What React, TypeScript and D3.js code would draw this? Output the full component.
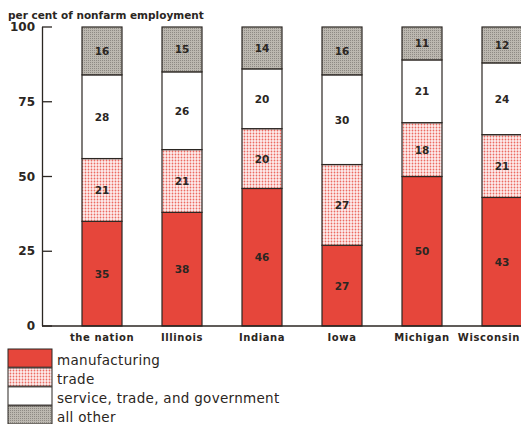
import React from "react";
import * as d3 from "d3";

const categories = ["the nation", "Illinois", "Indiana", "Iowa", "Michigan", "Wisconsin"];
const manufacturing = [35, 38, 46, 27, 50, 43];
const trade = [21, 21, 20, 27, 18, 21];
const service = [28, 26, 20, 30, 21, 24];
const other = [16, 15, 14, 16, 11, 12];
const yTicks = [0, 25, 50, 75, 100];
const seriesNames = ["manufacturing", "trade", "service, trade, and government", "all other"];

const W = 521;
const H = 424;
const RED = "#e6463b";
const INK = "#2b2622";
const FONT = "'DejaVu Sans', 'Liberation Sans', sans-serif";

export default function App() {
  const x = d3.scaleBand<string>().domain(categories).range([62, 542]).paddingInner(0.5).paddingOuter(0.25);
  const y = d3.scaleLinear().domain([0, 100]).range([326, 27]);
  const seriesVals = [manufacturing, trade, service, other];
  const fills = [RED, "url(#tradePat)", "#ffffff", "url(#otherPat)"];

  const stacked = categories.map((c, i) => {
    let base = 0;
    return seriesVals.map((s, k) => {
      const seg = { k, v: s[i], y0: base, y1: base + s[i] };
      base += s[i];
      return seg;
    });
  });

  const legendY = d3.scaleBand<string>().domain(seriesNames).range([349, 424]).paddingInner(0.04);

  return (
    <svg width={W} height={H} style={{ position: "absolute", left: 0, top: 0, background: "#fff" }} fontFamily={FONT}>
      <defs>
        <pattern id="tradePat" width="3" height="3" patternUnits="userSpaceOnUse">
          <rect width="3" height="3" fill="#fdeeee" />
          <circle cx="1.5" cy="1.5" r="0.9" fill="#ec6a60" />
        </pattern>
        <pattern id="otherPat" width="2" height="2" patternUnits="userSpaceOnUse">
          <rect width="2" height="2" fill="#bcb8b0" />
          <rect width="1" height="1" fill="#8e8a84" />
        </pattern>
      </defs>
      <text x={8} y={19} fontSize={10.5} fontWeight="bold" fill={INK}>per cent of nonfarm employment</text>

      {/* y axis */}
      <line x1={42.5} x2={42.5} y1={y(100)} y2={y(0)} stroke={INK} strokeWidth={1.3} />
      {yTicks.map((t) => (
        <g key={t}>
          <line x1={42} x2={52} y1={y(t)} y2={y(t)} stroke={INK} strokeWidth={1.3} />
          <text x={35} y={y(t) + 4} textAnchor="end" fontSize={12} fontWeight="bold" fill={INK}>{t}</text>
        </g>
      ))}

      {/* bars */}
      {categories.map((c, i) => {
        const cx = x(c)! + x.bandwidth() / 2;
        const last = i === categories.length - 1;
        return (
          <g key={c}>
            {stacked[i].map((seg) => (
              <rect
                key={seg.k}
                x={x(c)!}
                width={x.bandwidth()}
                y={y(seg.y1)}
                height={y(seg.y0) - y(seg.y1)}
                fill={fills[seg.k]}
                stroke={INK}
                strokeWidth={1.2}
              />
            ))}
            {stacked[i].map((seg) => (
              <text
                key={"t" + seg.k}
                x={cx}
                y={(y(seg.y0) + y(seg.y1)) / 2 + 4}
                textAnchor="middle"
                fontSize={10.5}
                fontWeight="bold"
                fill={INK}
              >
                {seg.v}
              </text>
            ))}
            <text
              x={last ? W - 1 : cx}
              y={341}
              textAnchor={last ? "end" : "middle"}
              fontSize={10}
              fontWeight="bold"
              letterSpacing={0.6}
              fill={INK}
            >
              {c}
            </text>
          </g>
        );
      })}

      {/* baseline */}
      <line x1={42} x2={W} y1={y(0)} y2={y(0)} stroke={INK} strokeWidth={1.5} />

      {/* legend */}
      {seriesNames.map((n, k) => (
        <g key={n}>
          <rect x={8} y={legendY(n)!} width={44} height={legendY.bandwidth()} fill={fills[k]} stroke={INK} strokeWidth={1} />
          <text x={57} y={legendY(n)! + legendY.bandwidth() / 2 + 7} fontSize={13.5} letterSpacing={0.3} fill={INK}>{n}</text>
        </g>
      ))}
    </svg>
  );
}
